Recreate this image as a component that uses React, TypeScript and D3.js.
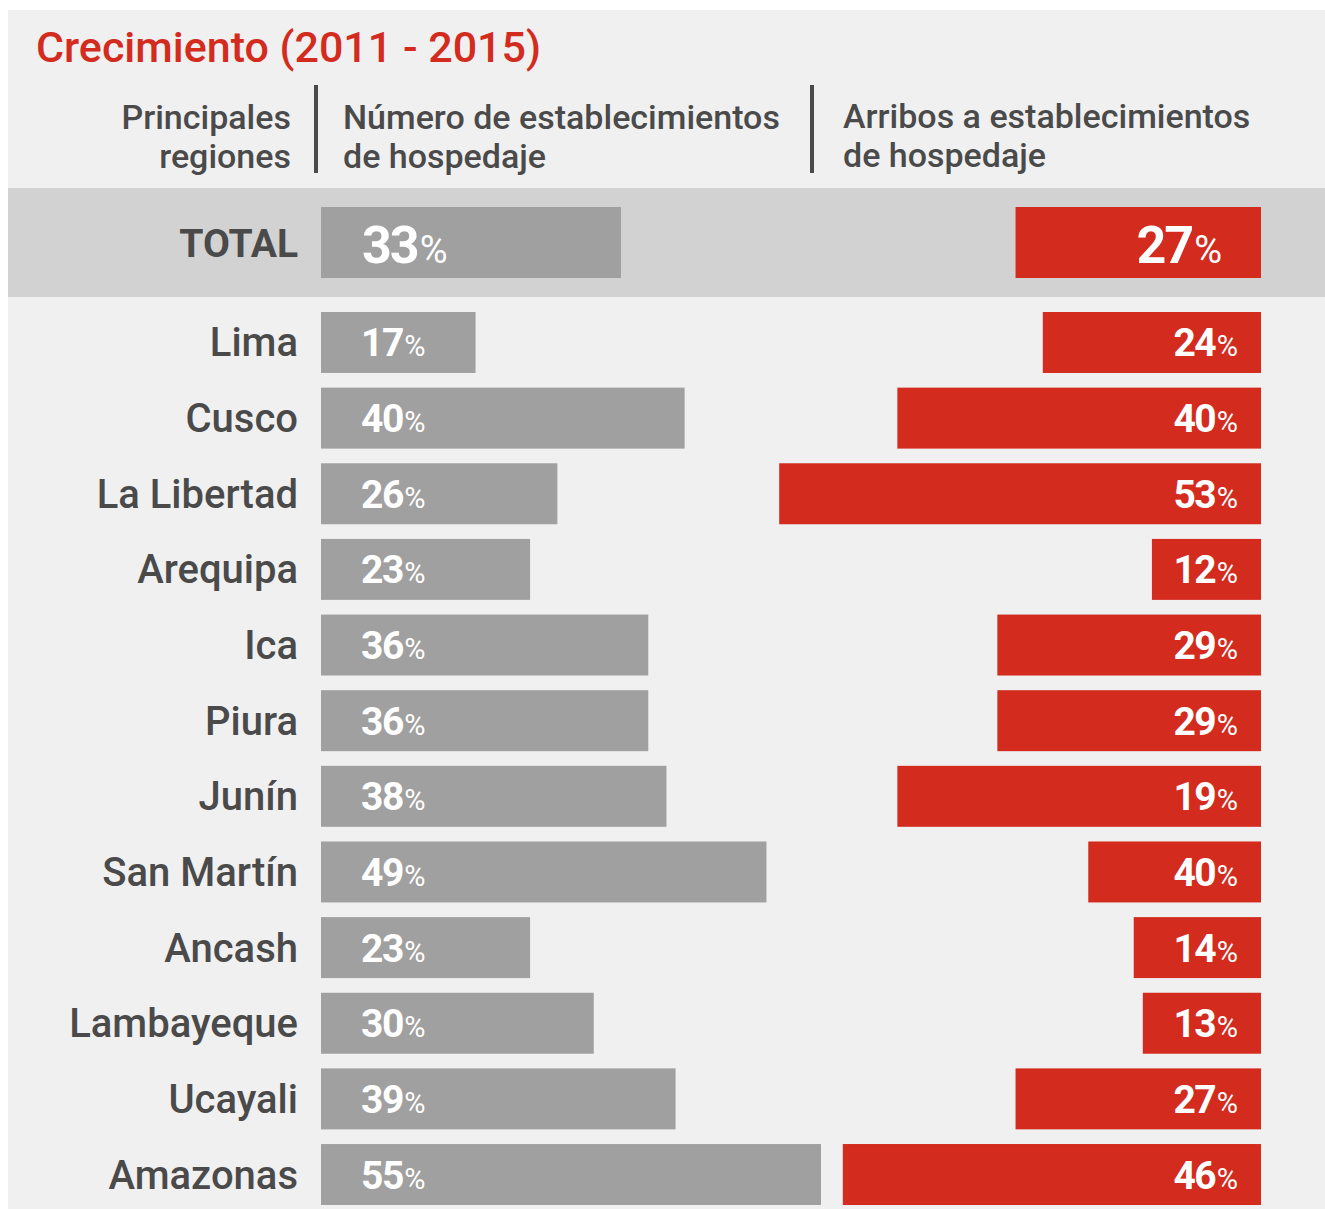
import React from 'react';
import * as d3 from 'd3';

// Datos
const regiones = ['Lima', 'Cusco', 'La Libertad', 'Arequipa', 'Ica', 'Piura', 'Junín', 'San Martín', 'Ancash', 'Lambayeque', 'Ucayali', 'Amazonas'];
const establecimientos = [17, 40, 26, 23, 36, 36, 38, 49, 23, 30, 39, 55];
const arribos = [24, 40, 53, 12, 29, 29, 19, 40, 14, 13, 27, 46];
// largo de barra tal como aparece (Junín y San Martín están cruzados en el original)
const arribosBarra = [24, 40, 53, 12, 29, 29, 40, 19, 14, 13, 27, 46];
const totalEstablecimientos = 33;
const totalArribos = 27;

const W = 1325;
const H = 1209;
const FONT = 'Roboto, "Open Sans", sans-serif';
const TEXT = '#4a4a4a';
const GRAY = '#a0a0a0';
const RED = '#d32b1e';

export default function App() {
  const len = d3.scaleLinear().domain([0, 55]).range([0, 500]);
  const leftX = 321;
  const rightX = 1261;

  const y = d3.scaleBand<string>()
    .domain(regiones)
    .range([312, 1205])
    .paddingInner(0.194)
    .paddingOuter(0);

  const rows = regiones.map((r, i) => ({
    region: r,
    est: establecimientos[i],
    arr: arribos[i],
    arrBar: arribosBarra[i],
  }));

  return (
    <svg width={W} height={H} style={{ position: 'absolute', left: 0, top: 0 }} fontFamily={FONT}>
      <rect x={8} y={10} width={W - 8} height={H - 10} fill="#f0f0f0" />

      {/* Título */}
      <text x={36} y={62} fill={RED} fontSize={43} fontWeight={500}>Crecimiento (2011 - 2015)</text>

      {/* Encabezados */}
      <g fill={TEXT} fontSize={34} fontWeight={500}>
        <text x={291} y={129} textAnchor="end">Principales</text>
        <text x={291} y={168} textAnchor="end">regiones</text>
        <text x={343} y={129}>Número de establecimientos</text>
        <text x={343} y={168}>de hospedaje</text>
        <text x={843} y={128}>Arribos a establecimientos</text>
        <text x={843} y={167}>de hospedaje</text>
      </g>
      <line x1={316} x2={316} y1={85} y2={173} stroke={TEXT} strokeWidth={4} />
      <line x1={812} x2={812} y1={85} y2={173} stroke={TEXT} strokeWidth={4} />

      {/* Fila total */}
      <rect x={8} y={188} width={W - 8} height={109} fill="#d2d2d2" />
      <text x={298} y={257} textAnchor="end" fill={TEXT} fontSize={39} fontWeight={700}>TOTAL</text>
      <rect x={leftX} y={207} width={len(totalEstablecimientos)} height={71} fill={GRAY} />
      <text x={362} y={263} fill="#fff">
        <tspan fontSize={52} fontWeight={700} letterSpacing={-2}>{totalEstablecimientos}</tspan>
        <tspan fontSize={38} dx={2}>%</tspan>
      </text>
      <rect x={rightX - len(totalArribos)} y={207} width={len(totalArribos)} height={71} fill={RED} />
      <text x={1222} y={263} fill="#fff" textAnchor="end">
        <tspan fontSize={52} fontWeight={700} letterSpacing={-2}>{totalArribos}</tspan>
        <tspan fontSize={38} dx={2}>%</tspan>
      </text>

      {/* Filas por región */}
      {rows.map((d) => {
        const top = y(d.region) as number;
        const bw = y.bandwidth();
        const base = top + bw / 2 + 14;
        return (
          <g key={d.region}>
            <text x={298} y={base} textAnchor="end" fill={TEXT} fontSize={40} fontWeight={500}>{d.region}</text>
            <rect x={leftX} y={top} width={len(d.est)} height={bw} fill={GRAY} />
            <text x={361} y={base} fill="#fff">
              <tspan fontSize={39} fontWeight={700} letterSpacing={-1.5}>{d.est}</tspan>
              <tspan fontSize={29} dx={1.5}>%</tspan>
            </text>
            <rect x={rightX - len(d.arrBar)} y={top} width={len(d.arrBar)} height={bw} fill={RED} />
            <text x={1238} y={base} fill="#fff" textAnchor="end">
              <tspan fontSize={39} fontWeight={700} letterSpacing={-1.5}>{d.arr}</tspan>
              <tspan fontSize={29} dx={1.5}>%</tspan>
            </text>
          </g>
        );
      })}
    </svg>
  );
}
